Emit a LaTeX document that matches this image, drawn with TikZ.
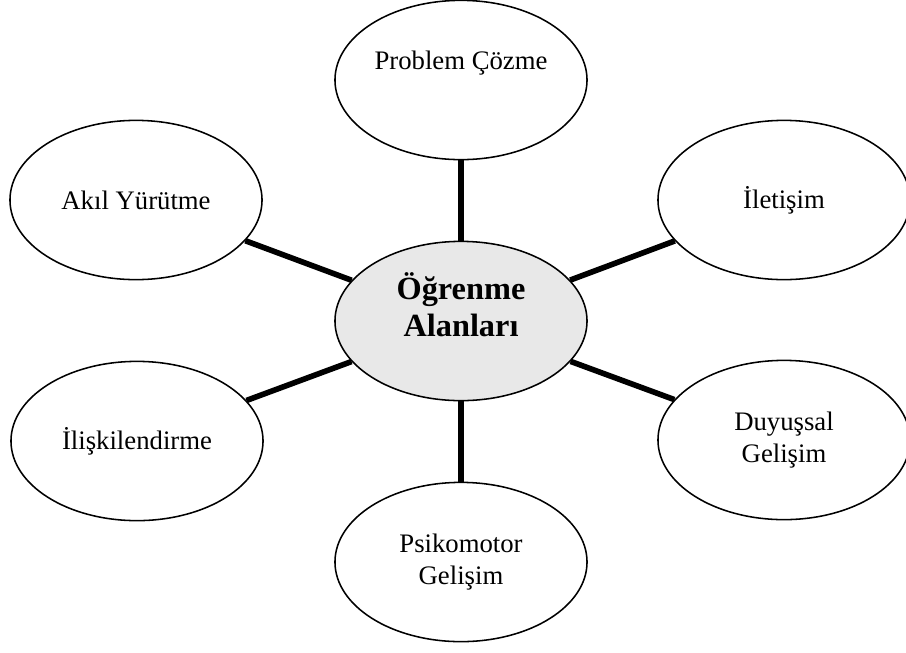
\documentclass[tikz,border=0pt]{standalone}
\usepackage{fontspec}
\setmainfont{Liberation Serif}
\usetikzlibrary{shapes.geometric}

\begin{document}
\begin{tikzpicture}[x=0.025cm, y=-0.025cm,
  area/.style={draw, ellipse, line width=1.1pt, minimum width=6.3cm,
    minimum height=3.98cm, inner sep=0pt, align=center,
    font=\fontsize{19}{22.5}\selectfont},
  hub/.style={area, fill=black!9},
  hubtext/.style={align=center, font=\fontsize{23}{26.5}\selectfont\bfseries},
  spoke/.style={line width=4pt}]
  \useasboundingbox (0,0) rectangle (906,652);

  % 1. The central area
  \node[hub] (hub) at (461,321) {};
  \node[hubtext] (hubname) at (461,305) {Öğrenme\\Alanları};

  % 2. The six learning areas around it
  \node[area] (problem) at (461,80) {};
  \node[font=\fontsize{19}{22.5}\selectfont] (problemname) at (461,63) {Problem Çözme};
  \node[area] (akil) at (136,200) {Akıl Yürütme};
  \node[area] (iletisim) at (784,200) {İletişim};
  \node[area] (iliski) at (137,441) {İlişkilendirme};
  \node[area] (duyussal) at (784,440) {Duyuşsal\\Gelişim};
  \node[area] (psiko) at (461,562) {Psikomotor\\Gelişim};

  % 3. Spokes from the centre
  \foreach \n in {problem,akil,iletisim,iliski,duyussal,psiko}
    \draw[spoke] (hub) -- (\n);
\end{tikzpicture}
\end{document}
